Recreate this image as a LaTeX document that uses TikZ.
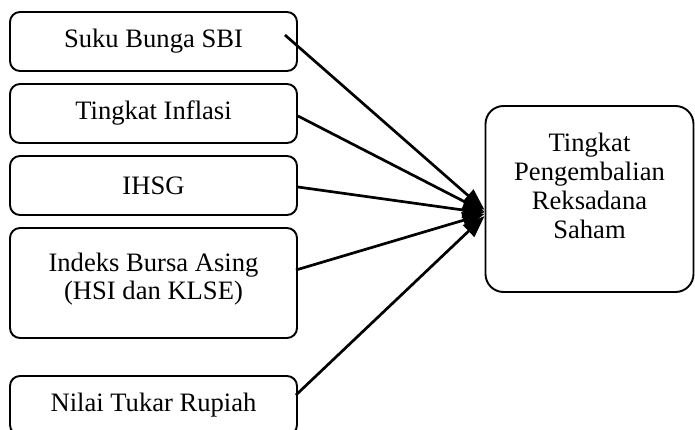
\documentclass[tikz,border=0pt]{standalone}
\usepackage{fontspec}
\setmainfont{Liberation Serif}
\usetikzlibrary{arrows.meta}
\begin{document}
\begin{tikzpicture}[x=1pt,y=-1pt,
  box/.style={draw=black, line width=1.9pt, rounded corners=10pt, minimum width=287pt, minimum height=59pt, inner sep=0pt},
  lbl/.style={align=center, inner sep=0pt, font=\fontsize{26.6}{28.5}\selectfont},
  conn/.style={line width=2.7pt, -{Triangle[length=22pt,width=16pt]}}]
\useasboundingbox (0,0) rectangle (695,430);
\clip (0,0) rectangle (695,430);
\fill[white] (0,0) rectangle (695,430);
\node[box,lbl] (b1) at (153.5,41.5) {Suku Bunga SBI};
\node[box,lbl] (b2) at (153.5,113.5) {Tingkat Inflasi};
\node[box,lbl] (b3) at (153.5,185.5) {IHSG};
\node[box,minimum height=110pt] (b4) at (153.5,283) {};
\node[lbl] (t4) at (153.5,279) {Indeks Bursa Asing\\(HSI dan KLSE)};
\node[box,lbl] (b5) at (153.5,405.5) {Nilai Tukar Rupiah};
\node[box,minimum width=208pt,minimum height=186pt,rounded corners=18pt] (r) at (589.5,199) {};
\node[lbl,font=\fontsize{26.6}{29}\selectfont] (tr) at (589.5,186) {Tingkat\\Pengembalian\\Reksadana\\Saham};
\draw[conn] ([xshift=-13pt,yshift=6.5pt]b1.east) -- ([yshift=-11pt]r.west);
\draw[conn] ([yshift=-2.5pt]b2.east) -- ([yshift=-13pt]r.west);
\draw[conn] ([yshift=-1.5pt]b3.east) -- ([yshift=-14pt]r.west);
\draw[conn] ([xshift=-2pt,yshift=13pt]b4.east) -- ([yshift=-15pt]r.west);
\draw[conn] ([xshift=-2pt,yshift=10.5pt]b5.east) -- ([yshift=-17pt]r.west);
\end{tikzpicture}
\end{document}
